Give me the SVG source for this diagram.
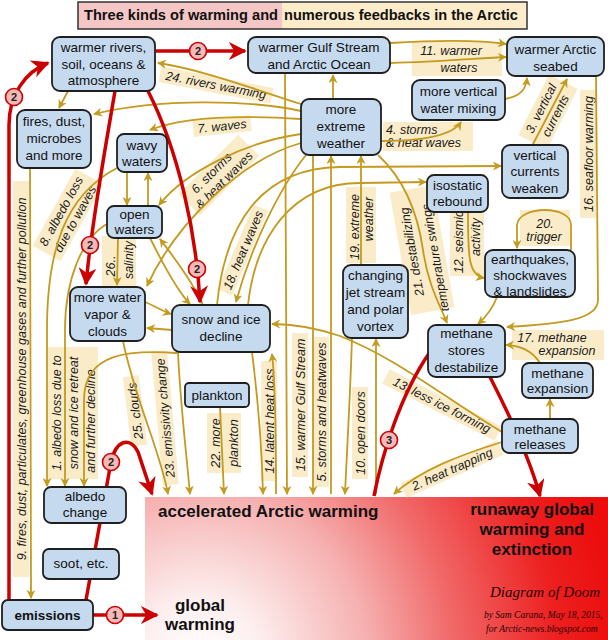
<svg xmlns="http://www.w3.org/2000/svg" width="608" height="640" viewBox="0 0 608 640">
<defs>
<style>
.n{fill:#c6daef;stroke:#1f1f1f;stroke-width:1.8}
.nt{font-family:"Liberation Sans",Arial,sans-serif;font-size:13.5px;fill:#111;text-anchor:middle}
.lb{font-family:"Liberation Sans",Arial,sans-serif;font-size:12.5px;font-style:italic;fill:#1a1a1a;text-anchor:middle}
.ls{text-anchor:start}
.bd{fill:#f8e4b4;opacity:0.72}
.g{fill:none;stroke:#c49a1f;stroke-width:1.8;marker-end:url(#ag)}
.r{fill:none;stroke:#cc0000;stroke-width:3.5}
.ra{marker-end:url(#ar)}
.rc{fill:#f6b8b8;stroke:#cc0000;stroke-width:1.6}
.rt{font-family:"Liberation Sans",Arial,sans-serif;font-size:11px;font-weight:bold;fill:#222;text-anchor:middle}
.big{font-family:"Liberation Sans",Arial,sans-serif;font-size:17px;font-weight:bold;fill:#111}
.mid{text-anchor:middle}
.tt{font-family:"Liberation Sans",Arial,sans-serif;font-size:14.5px;font-weight:bold;fill:#111}
.sig{font-family:"Liberation Serif","Times New Roman",serif;font-style:italic;fill:#2a0000}
</style>
<marker id="ag" viewBox="0 0 10 10" refX="9" refY="5" markerWidth="9" markerHeight="9" markerUnits="userSpaceOnUse" orient="auto"><path d="M0,0 L10,5 L0,10 L3,5 z" fill="#c49a1f"/></marker>
<marker id="ar" viewBox="0 0 10 10" refX="9" refY="5" markerWidth="18" markerHeight="18" markerUnits="userSpaceOnUse" orient="auto"><path d="M0,0 L10,5 L0,10 L3,5 z" fill="#cc0000"/></marker>
<radialGradient id="hot" gradientUnits="userSpaceOnUse" cx="200" cy="660" r="420">
<stop offset="0" stop-color="#ffffff"/>
<stop offset="0.15" stop-color="#fdeeee"/>
<stop offset="0.4" stop-color="#f6b0b0"/>
<stop offset="0.6" stop-color="#f16a6a"/>
<stop offset="0.85" stop-color="#ed2020"/>
<stop offset="1" stop-color="#ec0d0d"/>
</radialGradient>
</defs>
<rect x="0" y="0" width="608" height="640" fill="#ffffff"/>

<g id="hot-zone">
<rect x="145" y="497" width="463" height="143" fill="url(#hot)"/>
<text class="big" x="158" y="517">accelerated Arctic warming</text>
<text class="big mid" x="532" y="515">runaway global</text>
<text class="big mid" x="532" y="535">warming and</text>
<text class="big mid" x="532" y="555">extinction</text>
<text class="sig" x="490" y="597" font-size="15">Diagram of Doom</text>
<text class="sig" x="484" y="618" font-size="9.5">by Sam Carana, May 18, 2015,</text>
<text class="sig" x="486" y="632" font-size="9.5">for Arctic-news.blogspot.com</text>
</g>
<text class="big mid" x="200" y="611">global</text>
<text class="big mid" x="200" y="630">warming</text>

<g id="title">
<rect x="78" y="2" width="204" height="27" fill="#f4c6c6"/>
<rect x="282" y="2" width="245" height="27" fill="#fcecc9"/>
<rect x="78" y="2" width="449" height="27" fill="none" stroke="#333" stroke-width="1.5"/>
<text class="tt" x="84" y="20" textLength="194" lengthAdjust="spacingAndGlyphs">Three kinds of warming and</text>
<text class="tt" x="284" y="20" textLength="234" lengthAdjust="spacingAndGlyphs">numerous feedbacks in the Arctic</text>
</g>

<g id="labels">
<g transform="translate(216,85) rotate(11)"><rect class="bd" x="-57" y="-8" width="114" height="16"/><text class="lb" y="4.5">24. rivers warming</text></g>
<g transform="translate(222,126) rotate(-6)"><rect class="bd" x="-29" y="-8" width="58" height="16"/><text class="lb" y="4.5">7. waves</text></g>
<g transform="translate(219,175) rotate(-45)"><rect class="bd" x="-42" y="-15" width="84" height="30"/><text class="lb" x="-4" y="-2.5">6. storms</text><text class="lb" y="11.5">&amp; heat waves</text></g>
<g transform="translate(243,250) rotate(-67)"><rect class="bd" x="-46" y="-8" width="92" height="16"/><text class="lb" y="4.5">18. heat waves</text></g>
<g transform="translate(361,225) rotate(-90)"><rect class="bd" x="-38" y="-15" width="76" height="30"/><text class="lb" x="-2" y="-2.5">19. extreme</text><text class="lb" x="6" y="11.5">weather</text></g>
<g transform="translate(422,250) rotate(-100)"><rect class="bd" x="-62" y="-22" width="124" height="44"/><text class="lb" x="0" y="-6">21. destabilizing</text><text class="lb" x="-10" y="16">temperature swings</text></g>
<g transform="translate(467,240) rotate(-90)"><rect class="bd" x="-36" y="-17" width="72" height="34"/><text class="lb" x="-2" y="-4">12. seismic</text><text class="lb" x="3" y="13">activity</text></g>
<g transform="translate(588,154) rotate(-90)"><rect class="bd" x="-64" y="-8" width="128" height="16"/><text class="lb" y="4.5">16. seafloor warming</text></g>
<g transform="translate(548,112) rotate(-63)"><rect class="bd" x="-34" y="-16" width="68" height="32"/><text class="lb" y="-3.5">3. vertical</text><text class="lb" y="12.5">currents</text></g>
<g transform="translate(442,405) rotate(27)"><rect class="bd" x="-63" y="-8" width="126" height="16"/><text class="lb" y="4.5">13. less ice forming</text></g>
<g transform="translate(452,469) rotate(-24)"><rect class="bd" x="-53" y="-8" width="106" height="16"/><text class="lb" y="4.5">2. heat trapping</text></g>
<g transform="translate(360,433) rotate(-90)"><rect class="bd" x="-46" y="-8" width="92" height="16"/><text class="lb" y="4.5">10. open doors</text></g>
<g transform="translate(321,412) rotate(-90)"><rect class="bd" x="-75" y="-8" width="150" height="16"/><text class="lb" y="4.5">5. storms and heatwaves</text></g>
<g transform="translate(300,405) rotate(-90)"><rect class="bd" x="-72" y="-8" width="144" height="16"/><text class="lb" y="4.5">15. warmer Gulf Stream</text></g>
<g transform="translate(269,421) rotate(-90)"><rect class="bd" x="-60" y="-8" width="120" height="16"/><text class="lb" y="4.5">14. latent heat loss</text></g>
<g transform="translate(224,443) rotate(-90)"><rect class="bd" x="-30" y="-17" width="60" height="34"/><text class="lb" y="-4">22. more</text><text class="lb" y="14">plankton</text></g>
<g transform="translate(165,418) rotate(-95)"><rect class="bd" x="-67" y="-8" width="134" height="16"/><text class="lb" y="4.5">23. emissivity change</text></g>
<g transform="translate(135,411) rotate(-97)"><rect class="bd" x="-35" y="-8" width="70" height="16"/><text class="lb" y="4.5">25. clouds</text></g>
<g transform="translate(73,413) rotate(-90)"><rect class="bd" x="-66" y="-25" width="132" height="50"/><text class="lb" y="-12.5">1. albedo loss due to</text><text class="lb" y="4.5">snow and ice retreat</text><text class="lb" x="-8" y="21.5">and further decline</text></g>
<g transform="translate(68,215) rotate(-61)"><rect class="bd" x="-44" y="-16" width="88" height="32"/><text class="lb" y="-3.5">8. albedo loss</text><text class="lb" y="12.5">due to waves</text></g>
<g transform="translate(119,262) rotate(-90)"><rect class="bd" x="-26" y="-17" width="52" height="34"/><text class="lb" x="-4" y="-4">26..</text><text class="lb" x="2" y="14">salinity</text></g>
<g transform="translate(21,379) rotate(-90)"><rect class="bd" x="-198" y="-8" width="396" height="16"/><text class="lb" y="4.5">9. fires, dust, particulates, greenhouse gases and further pollution</text></g>
<rect class="bd" x="412" y="42" width="90" height="34"/>
<text class="lb" x="451" y="55">11. warmer</text>
<text class="lb" x="459" y="72">waters</text>
<rect class="bd" x="383" y="122" width="90" height="29"/>
<text class="lb ls" x="386" y="134">4. storms</text>
<text class="lb ls" x="386" y="147">&amp; heat waves</text>
<rect class="bd" x="512" y="330" width="92" height="30"/>
<text class="lb" x="552" y="342">17. methane</text>
<text class="lb" x="567" y="355">expansion</text>
<rect class="bd" x="520" y="210" width="50" height="36"/>
<text class="lb" x="545" y="228">20.</text>
<text class="lb" x="544" y="241">trigger</text>
</g>

<g id="connectors">
<path class="g" d="M301,104 C262,92 205,70 158,63"/>
<path class="g" d="M301,111 C250,100 160,98 94,114"/>
<path class="g" d="M301,119 C255,116 190,114 150,130"/>
<path class="g" d="M301,134 C245,142 185,172 159,205"/>
<path class="g" d="M301,143 C240,160 175,225 147,286"/>
<path class="g" d="M306,155 C278,190 250,250 236,302"/>
<path class="g" d="M333,99 L333,75"/>
<path class="g" d="M390,43 C440,40 480,40 506,44"/>
<path class="g" d="M390,63 C440,62 480,58 506,57"/>
<path class="g" d="M505,99 C520,96 526,90 527,78"/>
<path class="g" d="M381,141 C420,141 452,136 461,122"/>
<path class="g" d="M532,146 L567,79"/>
<path class="g" d="M596,76 L598,300 C598,320 560,324 507,327"/>
<path class="g" d="M217,305 C225,225 260,168 340,167 L501,166"/>
<path class="g" d="M248,305 C255,240 290,183 360,183 L426,182"/>
<path class="g" d="M468,212 C468,255 468,275 484,278"/>
<path class="g" d="M571,250 L571,225 C571,205 519,205 517,225 L517,248"/>
<path class="g" d="M497,297 C492,310 486,317 478,324"/>
<path class="g" d="M378,155 C405,180 418,215 423,250 C428,285 440,305 447,323"/>
<path class="g" d="M127,172 L127,205"/>
<path class="g" d="M148,206 L148,173"/>
<path class="g" d="M117,168 C65,195 47,250 47,330 L47,486"/>
<path class="g" d="M107,224 C82,238 65,280 65,330 L65,486"/>
<path class="g" d="M177,353 C130,350 84,352 84,400 L84,486"/>
<path class="g" d="M118,238 L117,285"/>
<path class="g" d="M145,302 C155,306 162,311 171,314"/>
<path class="g" d="M172,330 L147,328"/>
<path class="g" d="M150,238 C165,268 178,292 190,304"/>
<path class="g" d="M203,305 C192,280 172,255 160,239"/>
<path class="g" d="M68,91 L59,108"/>
<path class="g" d="M30,168 L31,598"/>
<path class="g" d="M123,341 C135,400 160,450 168,494"/>
<path class="g" d="M178,352 C180,400 186,450 190,494"/>
<path class="g" d="M220,407 L224,494"/>
<path class="g" d="M252,352 C258,400 262,450 263,494"/>
<path class="g" d="M276,494 C276,420 275,380 272,354"/>
<path class="g" d="M285,73 L287,494"/>
<path class="g" d="M313,155 C313,300 313,400 313,494"/>
<path class="g" d="M331,494 L331,156"/>
<path class="g" d="M376,494 L376,339"/>
<path class="g" d="M352,338 C350,400 347,450 345,494"/>
<path class="g" d="M361,265 L361,156"/>
<path class="g" d="M502,432 C440,395 400,360 340,336 C310,326 290,324 272,324"/>
<path class="g" d="M502,442 C460,455 420,470 394,494"/>
<path class="g" d="M550,419 L550,399"/>
<path class="g" d="M540,363 C532,350 518,345 506,345"/>

<path class="r ra" d="M9,600 L9,125 C9,95 25,72 48,63"/>
<path class="r ra" d="M156,51 L245,51"/>
<path class="r ra" d="M115,91 C105,150 92,220 86,284"/>
<path class="r ra" d="M148,91 C178,150 196,230 200,302"/>
<path class="r ra" d="M86,600 L111,462 C116,440 130,436 138,452 L152,494"/>
<path class="r ra" d="M93,615 L157,615"/>
<path class="r" d="M374,496 C382,455 400,395 430,352"/>
<path class="r ra" d="M490,377 C512,420 530,460 540,496"/>

<circle class="rc" cx="14" cy="97" r="8.5"/><text class="rt" x="14" y="101">2</text>
<circle class="rc" cx="198" cy="51" r="8.5"/><text class="rt" x="198" y="55">2</text>
<circle class="rc" cx="90" cy="245" r="8.5"/><text class="rt" x="90" y="249">2</text>
<circle class="rc" cx="197" cy="269" r="8.5"/><text class="rt" x="197" y="273">2</text>
<circle class="rc" cx="111" cy="462" r="8.5"/><text class="rt" x="111" y="466">2</text>
<circle class="rc" cx="115" cy="615" r="8.5"/><text class="rt" x="115" y="619">1</text>
<circle class="rc" cx="389" cy="440" r="8.5"/><text class="rt" x="389" y="444">3</text>
</g>

<g id="n-rivers"><rect class="n" x="52" y="37" width="103" height="54" rx="8"/><text class="nt" x="103.5" y="52">warmer rivers,</text><text class="nt" x="103.5" y="68.5">soil, oceans &amp;</text><text class="nt" x="103.5" y="85">atmosphere</text></g>
<g id="n-gulf"><rect class="n" x="248" y="37" width="142" height="36" rx="8"/><text class="nt" x="319" y="52">warmer Gulf Stream</text><text class="nt" x="319" y="68.5">and Arctic Ocean</text></g>
<g id="n-seabed"><rect class="n" x="507" y="37" width="97" height="39" rx="8"/><text class="nt" x="555.5" y="54">warmer Arctic</text><text class="nt" x="555.5" y="70.5">seabed</text></g>
<g id="n-mixing"><rect class="n" x="412" y="80" width="93" height="40" rx="8"/><text class="nt" x="458.5" y="96">more vertical</text><text class="nt" x="458.5" y="113">water mixing</text></g>
<g id="n-extreme"><rect class="n" x="301" y="99" width="80" height="56" rx="8"/><text class="nt" x="341" y="114">more</text><text class="nt" x="341" y="131">extreme</text><text class="nt" x="341" y="148">weather</text></g>
<g id="n-fires"><rect class="n" x="17" y="110" width="74" height="58" rx="8"/><text class="nt" x="54" y="126">fires, dust,</text><text class="nt" x="54" y="143">microbes</text><text class="nt" x="54" y="160">and more</text></g>
<g id="n-wavy"><rect class="n" x="117" y="134" width="50" height="38" rx="7"/><text class="nt" x="142" y="150">wavy</text><text class="nt" x="142" y="166">waters</text></g>
<g id="n-open"><rect class="n" x="107" y="206" width="55" height="32" rx="7"/><text class="nt" x="134.5" y="219">open</text><text class="nt" x="134.5" y="234">waters</text></g>
<g id="n-vapor"><rect class="n" x="70" y="287" width="75" height="54" rx="8"/><text class="nt" x="107.5" y="302">more water</text><text class="nt" x="107.5" y="319">vapor &amp;</text><text class="nt" x="107.5" y="336">clouds</text></g>
<g id="n-snow"><rect class="n" x="172" y="305" width="98" height="47" rx="8"/><text class="nt" x="221" y="324">snow and ice</text><text class="nt" x="221" y="341">decline</text></g>
<g id="n-plankton"><rect class="n" x="185" y="383" width="64" height="24" rx="4"/><text class="nt" x="217" y="400">plankton</text></g>
<g id="n-jet"><rect class="n" x="343" y="265" width="65" height="73" rx="8"/><text class="nt" x="375.5" y="280">changing</text><text class="nt" x="375.5" y="297">jet stream</text><text class="nt" x="375.5" y="314">and polar</text><text class="nt" x="375.5" y="331">vortex</text></g>
<g id="n-vcw"><rect class="n" x="502" y="145" width="66" height="53" rx="8"/><text class="nt" x="535" y="160">vertical</text><text class="nt" x="535" y="176">currents</text><text class="nt" x="535" y="192.5">weaken</text></g>
<g id="n-iso"><rect class="n" x="427" y="175" width="61" height="37" rx="7"/><text class="nt" x="457.5" y="189.5">isostatic</text><text class="nt" x="457.5" y="206">rebound</text></g>
<g id="n-quakes"><rect class="n" x="485" y="250" width="90" height="47" rx="8"/><text class="nt" x="530" y="264">earthquakes,</text><text class="nt" x="530" y="280">shockwaves</text><text class="nt" x="530" y="295.5">&amp; landslides</text></g>
<g id="n-stores"><rect class="n" x="428" y="325" width="77" height="52" rx="8"/><text class="nt" x="466.5" y="338">methane</text><text class="nt" x="466.5" y="355">stores</text><text class="nt" x="466.5" y="372">destabilize</text></g>
<g id="n-expansion"><rect class="n" x="522" y="363" width="71" height="35" rx="7"/><text class="nt" x="557.5" y="377.5">methane</text><text class="nt" x="557.5" y="393">expansion</text></g>
<g id="n-releases"><rect class="n" x="502" y="419" width="76" height="34" rx="7"/><text class="nt" x="540" y="433.5">methane</text><text class="nt" x="540" y="449">releases</text></g>
<g id="n-albedo"><rect class="n" x="44" y="487" width="82" height="36" rx="7"/><text class="nt" x="85" y="501">albedo</text><text class="nt" x="85" y="517">change</text></g>
<g id="n-soot"><rect class="n" x="43" y="549" width="76" height="30" rx="6"/><text class="nt" x="81" y="568">soot, etc.</text></g>
<g id="n-emissions"><rect class="n" x="2" y="600" width="91" height="30" rx="6"/><text class="nt" x="47.5" y="620" font-weight="bold" font-size="14">emissions</text></g>
</svg>
